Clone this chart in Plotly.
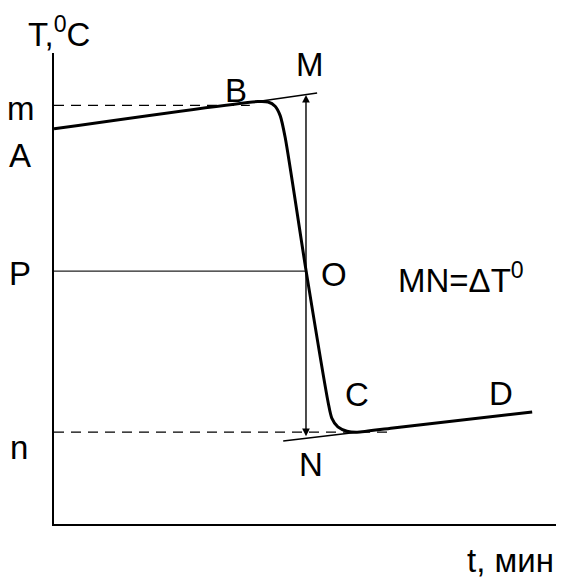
import plotly.graph_objects as go

# main temperature curve A-B-O-C-D (t in min, T in arbitrary units)
curve_t = [0.0, 4.03, 4.23, 4.37, 4.47, 4.57, 4.98, 5.42, 5.49, 5.61, 5.79, 5.99, 6.70, 9.45]
curve_T = [8.39, 8.97, 8.96, 8.87, 8.67, 8.20, 5.39, 2.57, 2.25, 2.06, 1.97, 1.95, 2.04, 2.38]

# tangent extensions B-M and N-C
upper_tan_t = [4.03, 5.20]
upper_tan_T = [8.97, 9.15]
lower_tan_t = [4.53, 5.99]
lower_tan_T = [1.76, 1.95]

# helper levels
m_level = 8.89
n_level = 1.95
p_level = 5.37
m_end_t = 3.87
n_end_t = 6.64
o_t = 4.98
arrow_top = 9.11
arrow_bottom = 1.83

# text labels (same units as the axes)
label_text = ["m", "A", "B", "M", "P", "O", "MN=ΔT<sup>0</sup>", "C", "D", "N", "n",
              "T,<sup>0</sup>C", "t, мин"]
label_t = [-0.65, -0.67, 3.60, 5.06, -0.67, 5.53, 8.05, 5.99, 8.83, 5.08, -0.69, 0.1, 9.03]
label_T = [8.83, 7.83, 9.21, 9.75, 5.31, 5.29, 5.22, 2.76, 2.78, 1.27, 1.63, 10.45, -0.78]

t_range = [0, 10]
T_range = [0, 10]

fig = go.Figure()

fig.add_trace(go.Scatter(x=[0, m_end_t], y=[m_level, m_level], mode="lines",
                         line=dict(color="black", width=1.3, dash="10px,7px")))
fig.add_trace(go.Scatter(x=[0, n_end_t], y=[n_level, n_level], mode="lines",
                         line=dict(color="black", width=1.3, dash="10px,7px")))
fig.add_trace(go.Scatter(x=[0, o_t], y=[p_level, p_level], mode="lines",
                         line=dict(color="#222", width=1.3)))
fig.add_trace(go.Scatter(x=upper_tan_t, y=upper_tan_T, mode="lines",
                         line=dict(color="black", width=1.5)))
fig.add_trace(go.Scatter(x=lower_tan_t, y=lower_tan_T, mode="lines",
                         line=dict(color="black", width=1.5)))
fig.add_trace(go.Scatter(x=curve_t, y=curve_T, mode="lines",
                         line=dict(color="black", width=3, shape="spline", smoothing=0.7)))

# double arrow M-N
fig.add_annotation(x=o_t, y=arrow_top, ax=o_t, ay=arrow_bottom, axref="x", ayref="y",
                   xref="x", yref="y", text="", showarrow=True, arrowhead=2,
                   arrowside="end+start", arrowsize=1.1, arrowwidth=1.4, arrowcolor="black")

# labels in paper coords so the ones outside the axes are still drawn
for txt, tx, ty in zip(label_text, label_t, label_T):
    fig.add_annotation(x=(tx - t_range[0]) / (t_range[1] - t_range[0]),
                       y=(ty - T_range[0]) / (T_range[1] - T_range[0]),
                       text=txt, showarrow=False, xref="paper", yref="paper",
                       xanchor="center", yanchor="middle",
                       font=dict(size=33, color="black"))

fig.update_xaxes(range=t_range, showline=True, linecolor="black", linewidth=2,
                 showgrid=False, zeroline=False, showticklabels=False, ticks="")
fig.update_yaxes(range=T_range, showline=True, linecolor="black", linewidth=2,
                 showgrid=False, zeroline=False, showticklabels=False, ticks="")

# page body adds ~8px offset, so margins are shifted to compensate
fig.update_layout(
    width=564, height=581,
    margin=dict(l=46, r=12, t=45, b=65),
    paper_bgcolor="white", plot_bgcolor="white",
    showlegend=False,
    font=dict(family="Liberation Sans, Arial", color="black"),
)

fig.write_html("out.html")
